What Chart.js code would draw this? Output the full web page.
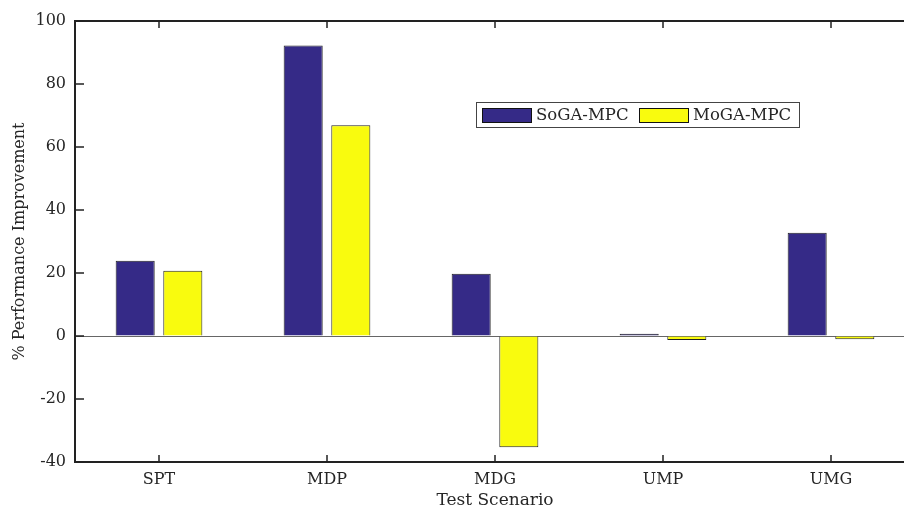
<!DOCTYPE html>
<html>
<head>
<meta charset="utf-8">
<script src="https://cdn.jsdelivr.net/npm/chart.js@4.4.1/dist/chart.umd.min.js"></script>
<style>
  html, body { margin: 0; padding: 0; background: #fff; overflow: hidden; }
  canvas { display: block; }
</style>
</head>
<body>
<canvas id="chart" width="904" height="511" style="width:904px;height:511px"></canvas>
<script>
const categories = ["SPT", "MDP", "MDG", "UMP", "UMG"];
const sogaValues = [23.9, 92.2, 19.8, 0.7, 32.8];
const mogaValues = [20.7, 66.9, -35.3, -1.3, -1.0];
const yTicks = [-40, -20, 0, 20, 40, 60, 80, 100];

const FONT = "'DejaVu Serif', serif";
const TEXT = "#262626";
const AXES_RIGHT = 915; // the original axes box runs past the picture's right edge

// stretch the plot area past the canvas edge
const wideAxes = {
    id: "wideAxes",
    afterLayout(chart) {
        const x = chart.scales.x;
        chart.chartArea.right = AXES_RIGHT;
        chart.chartArea.width = AXES_RIGHT - chart.chartArea.left;
        x.right = AXES_RIGHT;
        x.width = AXES_RIGHT - x.left;
        x.configure();
    }
};

// MATLAB style box with inward ticks + legend inside the axes
const matlabBox = {
    id: "matlabBox",
    afterDraw(chart) {
        const { ctx, chartArea: a, scales } = chart;
        ctx.save();
        ctx.strokeStyle = "#222";
        ctx.lineWidth = 2;
        ctx.strokeRect(a.left, a.top, a.right - a.left, a.bottom - a.top);

        // y ticks, pointing inward on left and right
        ctx.lineWidth = 1.5;
        ctx.beginPath();
        scales.y.ticks.forEach((t, i) => {
            const y = scales.y.getPixelForTick(i);
            ctx.moveTo(a.left, y); ctx.lineTo(a.left + 9, y);
            ctx.moveTo(a.right, y); ctx.lineTo(a.right - 9, y);
        });
        // x ticks, pointing inward on bottom and top
        scales.x.ticks.forEach((t, i) => {
            const x = scales.x.getPixelForTick(i);
            ctx.moveTo(x, a.bottom); ctx.lineTo(x, a.bottom - 7);
            ctx.moveTo(x, a.top); ctx.lineTo(x, a.top + 7);
        });
        ctx.stroke();

        // legend
        const lx = 476, ly = 102, lw = 323, lh = 25;
        ctx.fillStyle = "#fff";
        ctx.fillRect(lx, ly, lw, lh);
        ctx.strokeStyle = "#444";
        ctx.lineWidth = 1;
        ctx.strokeRect(lx + 0.5, ly + 0.5, lw, lh);
        ctx.font = "16.5px " + FONT;
        ctx.textBaseline = "middle";
        const offsets = [6, 163];
        chart.data.datasets.forEach((ds, i) => {
            const sx = lx + offsets[i];
            ctx.fillStyle = ds.backgroundColor;
            ctx.fillRect(sx, ly + 6, 49, 14);
            ctx.strokeStyle = "#111";
            ctx.strokeRect(sx + 0.5, ly + 6.5, 49, 14);
            ctx.fillStyle = TEXT;
            ctx.fillText(ds.label, sx + 54, ly + 13.5);
        });
        ctx.restore();
    }
};

new Chart(document.getElementById("chart"), {
    type: "bar",
    data: {
        labels: categories,
        datasets: [
            {
                label: "SoGA-MPC",
                data: sogaValues,
                backgroundColor: "#352a87",
                borderColor: "#222",
                borderWidth: 1,
                categoryPercentage: 0.567,
                barPercentage: 0.82
            },
            {
                label: "MoGA-MPC",
                data: mogaValues,
                backgroundColor: "#f9fb0e",
                borderColor: "#222",
                borderWidth: 1,
                categoryPercentage: 0.567,
                barPercentage: 0.82
            }
        ]
    },
    options: {
        responsive: false,
        animation: false,
        devicePixelRatio: 1,
        layout: { padding: { left: 0, top: 21, right: 0, bottom: 0 } },
        plugins: {
            legend: { display: false },
            tooltip: { enabled: false }
        },
        scales: {
            x: {
                grid: { display: false, drawTicks: false },
                border: { display: false },
                ticks: {
                    color: TEXT,
                    font: { family: FONT, size: 16 },
                    padding: 8
                },
                title: {
                    display: true,
                    text: "Test Scenario",
                    color: TEXT,
                    font: { family: FONT, size: 17 },
                    padding: { top: 0, bottom: 0 }
                },
                afterFit: (scale) => { scale.height = 49; }
            },
            y: {
                min: -40,
                max: 100,
                afterBuildTicks: (scale) => {
                    scale.ticks = yTicks.map(v => ({ value: v }));
                },
                grid: {
                    drawTicks: false,
                    color: (c) => c.tick && c.tick.value === 0 ? "#666" : "rgba(0,0,0,0)",
                    lineWidth: 1
                },
                border: { display: false },
                ticks: {
                    color: TEXT,
                    font: { family: FONT, size: 16 },
                    padding: 9
                },
                title: {
                    display: true,
                    text: "% Performance Improvement",
                    color: TEXT,
                    font: { family: FONT, size: 16 },
                    padding: { top: 10, bottom: 0 }
                },
                afterFit: (scale) => { scale.width = 75; }
            }
        }
    },
    plugins: [wideAxes, matlabBox]
});
</script>
</body>
</html>
